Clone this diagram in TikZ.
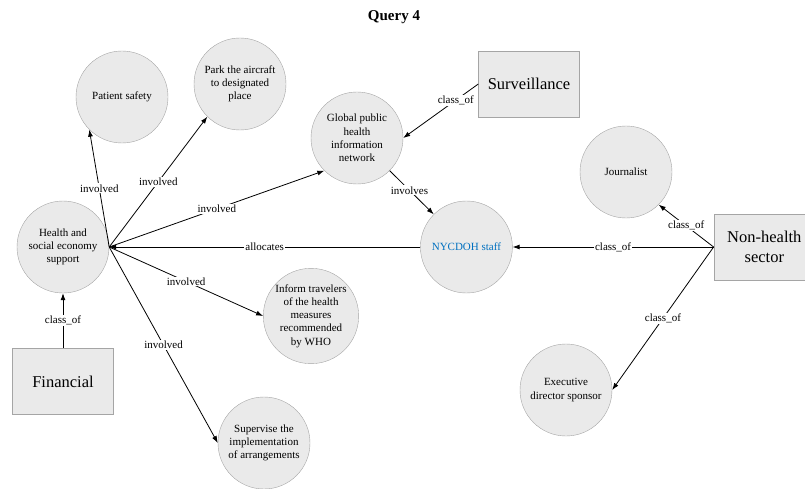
\documentclass[tikz,border=0pt]{standalone}
\usepackage{fontspec}
\setmainfont{Liberation Serif}
\definecolor{nodefill}{RGB}{234,234,234}
\definecolor{nodeline}{RGB}{165,165,165}
\definecolor{staffblue}{RGB}{0,112,192}
\usetikzlibrary{positioning,arrows.meta}

\begin{document}
\begin{tikzpicture}[x=1pt, y=-1pt,
            concept/.style={
                circle, draw=nodeline, fill=nodefill,
                minimum size=92pt, inner sep=0pt, align=center,
                font=\fontsize{11}{13.3}\selectfont
            },
            category/.style={
                rectangle, draw=nodeline, fill=nodefill,
                minimum width=101pt, minimum height=66pt, align=center,
                font=\fontsize{16.5}{19.5}\selectfont
            },
            rel/.style={-{Latex[length=7pt,width=5pt]}, line width=0.8pt},
            lbl/.style={fill=white, inner sep=1pt, font=\fontsize{11}{13}\selectfont},
        ]
            \clip (0,0) rectangle (805,489);

            \node [font=\bfseries\fontsize{15}{18}\selectfont] (title) at (394,17) {Query 4};

            \node [concept] (health) at (63,247)  {Health and\\social economy\\support};
            \node [concept] (patient) at (122,97) {Patient safety};
            \node [concept] (park) at (240,84)    {Park the aircraft\\to designated\\place};
            \node [concept] (global) at (357,138) {Global public\\health\\information\\network};
            \node [concept, text=staffblue] (staff) [ right=311pt of health ] {NYCDOH staff};
            \node [concept] (journalist) at (626,172) {Journalist};
            \node [concept] (inform) at (311,316) {Inform travelers\\of the health\\measures\\recommended\\by WHO};
            \node [concept] (supervise) at (264,443) {Supervise the\\implementation\\of arrangements};
            \node [concept] (executive) at (566,390) {Executive\\director sponsor};

            \node [category] (surveillance) at (529,84) {Surveillance};
            \node [category] (financial) [ below=55pt of health ] {Financial};
            \node [category] (nonhealth) [ right=201pt of staff ] {Non-health\\sector};

            \draw[rel] (health.east) -- (patient.225) node [lbl,midway] {involved};
            \draw[rel] (health.east) -- (park.225) node [lbl,midway] {involved};
            \draw[rel] (health.east) -- (global.225) node [lbl,midway] {involved};
            \draw[rel] (health.east) -- (inform.west) node [lbl,midway] {involved};
            \draw[rel] (health.east) -- (supervise.west) node [lbl,midway] {involved};
            \draw[rel] (staff.west) -- (health.east) node [lbl,midway] {allocates};
            \draw[rel] (financial.north) -- (health.south) node [lbl,midway] {class\_of};

            \draw[rel] (surveillance.west) -- (global.east) node [lbl,pos=0.3] {class\_of};
            \draw[rel] (global.315) -- (staff.135) node [lbl,pos=0.45] {involves};

            \draw[rel] (nonhealth.west) -- (staff.east) node [lbl,midway] {class\_of};
            \draw[rel] (nonhealth.west) -- (journalist.315) node [lbl,midway] {class\_of};
            \draw[rel] (nonhealth.west) -- (executive.east) node [lbl,midway] {class\_of};

        \end{tikzpicture}
\end{document}
